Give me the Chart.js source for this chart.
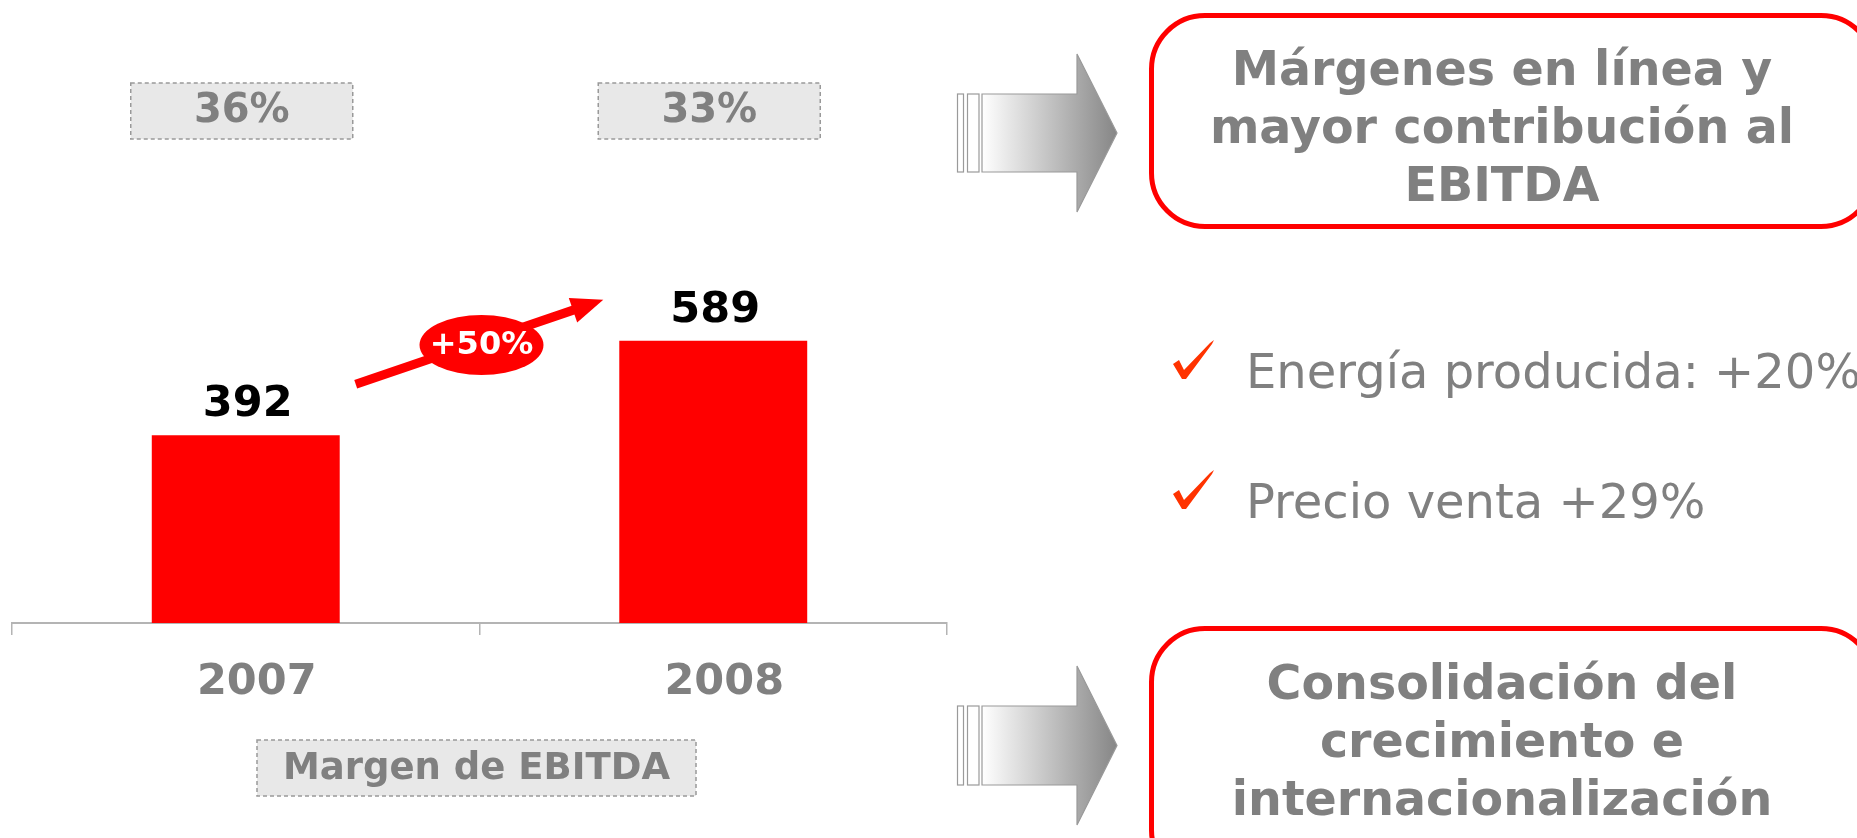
<!DOCTYPE html>
<html lang="es">
<head>
    <meta charset="utf-8"/>
    <title>EBITDA 2007 - 2008</title>
    <script src="https://cdn.jsdelivr.net/npm/chart.js"></script>
    <style>
        html, body {
            margin: 0;
            padding: 0;
            background: #fff;
            width: 1857px;
            height: 838px;
            overflow: hidden;
            font-family: "DejaVu Sans", Verdana, sans-serif;
        }

        #chartWrap {
            position: absolute;
            left: 0;
            top: 0;
            width: 960px;
            height: 838px;
        }

        /* red rounded boxes on the right */
        .panel {
            position: absolute;
            left: 1149px;
            width: 728px;
            border: 5px solid #ff0000;
            border-radius: 56px;
            box-sizing: border-box;
        }

        .panelText {
            position: absolute;
            left: 1152px;
            width: 700px;
            text-align: center;
            color: #808080;
            font-weight: bold;
            font-size: 47.5px;
            line-height: 58px;
            white-space: nowrap;
        }

        .bulletText {
            position: absolute;
            left: 1246px;
            color: #808080;
            font-size: 48px;
            line-height: 60px;
            white-space: nowrap;
        }

        svg.arrows {
            position: absolute;
            left: 0;
            top: 0;
        }
    </style>
</head>
<body>
    <div id="chartWrap"><canvas id="ebitdaChart"></canvas></div>

    <svg class="arrows" width="1857" height="838">
        <defs>
            <linearGradient id="arrowFill" x1="0" y1="0" x2="1" y2="0">
                <stop offset="0" stop-color="#ffffff"/>
                <stop offset="1" stop-color="#868686"/>
            </linearGradient>
        </defs>
        <g stroke="#9a9a9a" stroke-width="1.2">
            <rect x="957.5" y="94" width="6" height="78" fill="#fff"/>
            <rect x="967.5" y="94" width="11.5" height="78" fill="#fff"/>
            <path d="M982,94 L1077,94 L1077,54 L1117,133 L1077,212 L1077,172 L982,172 Z" fill="url(#arrowFill)"/>

            <rect x="957.5" y="706" width="6" height="79" fill="#fff"/>
            <rect x="967.5" y="706" width="11.5" height="79" fill="#fff"/>
            <path d="M982,706 L1077,706 L1077,666 L1117,745.5 L1077,825 L1077,785 L982,785 Z" fill="url(#arrowFill)"/>
        </g>
        <!-- check marks -->
        <g fill="#ff3300">
            <path d="M1173,364 L1179,360 L1184,370 L1210,343 L1214,340 L1212,344 L1186,379 L1182,379 Z"/>
            <path d="M1173,494 L1179,490 L1184,500 L1210,473 L1214,470 L1212,474 L1186,509 L1182,509 Z"/>
        </g>
    </svg>

    <div class="panel" style="top:13px; height:216px;"></div>
    <div class="panelText" style="top:40px;">Márgenes en línea y<br/>mayor contribución al<br/>EBITDA</div>

    <div class="bulletText" style="top:341px;">Energía producida: +20%</div>
    <div class="bulletText" style="top:471px;">Precio venta +29%</div>

    <div class="panel" style="top:626px; height:260px;"></div>
    <div class="panelText" style="top:654px;">Consolidación del<br/>crecimiento e<br/>internacionalización</div>

    <script>
        const years = ['2007', '2008'];
        const ebitda = [392, 589];
        const margins = ['36%', '33%'];
        const growthLabel = '+50%';
        const footLabel = 'Margen de EBITDA';

        const grey = '#808080';
        const red = '#ff0000';

        Chart.defaults.font.family = '"DejaVu Sans", Verdana, sans-serif';

        // value labels, margin boxes, growth arrow and footer box
        const annotations = {
            id: 'annotations',
            afterDatasetsDraw(chart) {
                const ctx = chart.ctx;
                const bars = chart.getDatasetMeta(0).data;
                const area = chart.chartArea;
                ctx.save();
                ctx.textAlign = 'center';
                ctx.textBaseline = 'middle';

                bars.forEach((bar, i) => {
                    // value above the bar
                    ctx.fillStyle = '#000';
                    ctx.font = 'bold 43px "DejaVu Sans"';
                    ctx.fillText(String(ebitda[i]), bar.x + 2, bar.y - 30);

                    // margin box at the top
                    const bw = 222, bh = 56, by = 83;
                    ctx.fillStyle = '#e8e8e8';
                    ctx.fillRect(bar.x - 4 - bw / 2, by, bw, bh);
                    ctx.setLineDash([4, 3]);
                    ctx.strokeStyle = '#999';
                    ctx.lineWidth = 1.5;
                    ctx.strokeRect(bar.x - 4 - bw / 2, by, bw, bh);
                    ctx.setLineDash([]);
                    ctx.fillStyle = grey;
                    ctx.font = 'bold 40px "DejaVu Sans"';
                    ctx.fillText(margins[i], bar.x - 4, by + bh / 2 + 1);
                });

                // growth arrow between the bars
                const b0 = bars[0], b1 = bars[1];
                const x1 = b0.x + b0.width / 2 + 16, y1 = b0.y - 51;
                const x2 = b1.x - b1.width / 2 - 16, y2 = b1.y - 41;
                const ang = Math.atan2(y2 - y1, x2 - x1);
                const head = 32;
                ctx.strokeStyle = red;
                ctx.fillStyle = red;
                ctx.lineWidth = 9;
                ctx.beginPath();
                ctx.moveTo(x1, y1);
                ctx.lineTo(x2 - head * 0.8 * Math.cos(ang), y2 - head * 0.8 * Math.sin(ang));
                ctx.stroke();
                ctx.beginPath();
                ctx.moveTo(x2, y2);
                ctx.lineTo(x2 - head * Math.cos(ang) + 13 * Math.sin(ang), y2 - head * Math.sin(ang) - 13 * Math.cos(ang));
                ctx.lineTo(x2 - head * Math.cos(ang) - 13 * Math.sin(ang), y2 - head * Math.sin(ang) + 13 * Math.cos(ang));
                ctx.closePath();
                ctx.fill();

                const mx = (x1 + x2) / 2 + 2, my = (y1 + y2) / 2 + 3;
                ctx.beginPath();
                ctx.ellipse(mx, my, 62, 30, 0, 0, Math.PI * 2);
                ctx.fill();
                ctx.fillStyle = '#fff';
                ctx.font = 'bold 32px "DejaVu Sans"';
                ctx.fillText(growthLabel, mx, my + 1);

                // footer box under the years
                const cx = (area.left + area.right) / 2 - 3;
                const fw = 439, fh = 56, fy = 740;
                ctx.fillStyle = '#e8e8e8';
                ctx.fillRect(cx - fw / 2, fy, fw, fh);
                ctx.setLineDash([4, 3]);
                ctx.strokeStyle = '#999';
                ctx.lineWidth = 1.5;
                ctx.strokeRect(cx - fw / 2, fy, fw, fh);
                ctx.setLineDash([]);
                ctx.fillStyle = grey;
                ctx.font = 'bold 37px "DejaVu Sans"';
                ctx.fillText(footLabel, cx, fy + fh / 2 + 1);

                ctx.restore();
            }
        };

        new Chart(document.getElementById('ebitdaChart'), {
            type: 'bar',
            data: {
                labels: years,
                datasets: [{
                    data: ebitda,
                    backgroundColor: red,
                    borderWidth: 0,
                    categoryPercentage: 1,
                    barPercentage: 0.402
                }]
            },
            options: {
                responsive: true,
                maintainAspectRatio: false,
                animation: false,
                layout: { padding: { left: 12, right: 13, top: 144, bottom: 95 } },
                plugins: {
                    legend: { display: false },
                    tooltip: { enabled: false }
                },
                scales: {
                    x: {
                        afterFit: (s) => { s.height = 120; },
                        grid: {
                            drawOnChartArea: false,
                            drawTicks: true,
                            tickLength: 12,
                            color: '#b4b4b4',
                            lineWidth: 1.5
                        },
                        border: { color: '#b4b4b4', width: 2 },
                        ticks: {
                            color: grey,
                            padding: 22,
                            labelOffset: 11,
                            font: { size: 43, weight: 'bold' }
                        }
                    },
                    y: {
                        display: false,
                        min: 0,
                        max: 1000
                    }
                }
            },
            plugins: [annotations]
        });
    </script>
</body>
</html>
